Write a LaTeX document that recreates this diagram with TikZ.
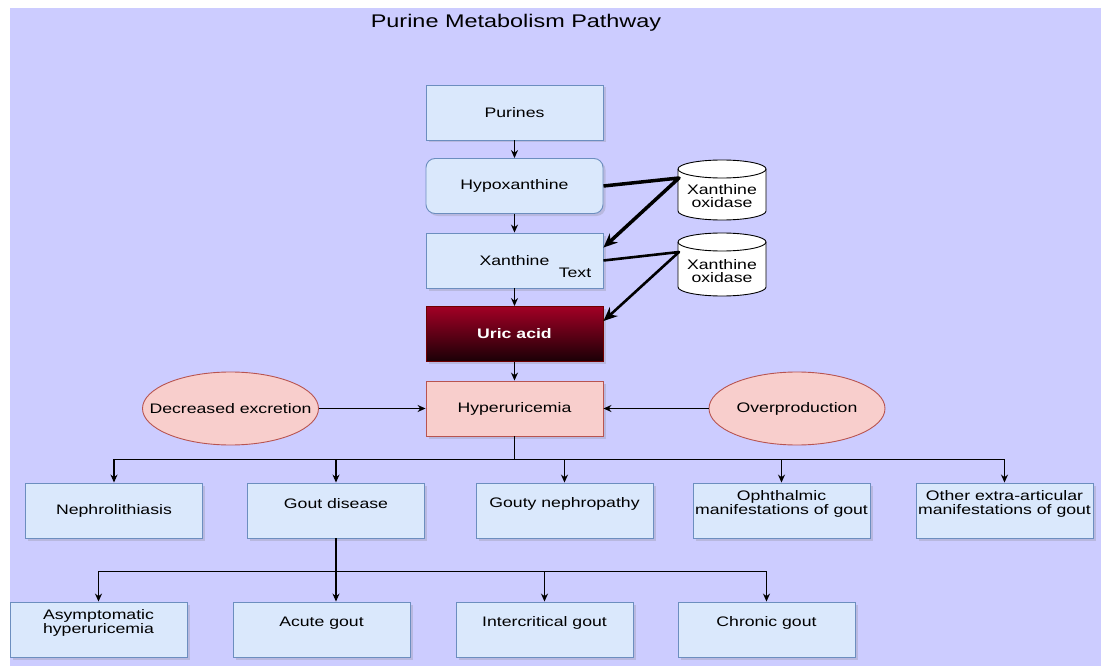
\documentclass[tikz,border=0pt]{standalone}
\usepackage{fontspec}
\setmainfont{Liberation Sans}[FakeStretch = 1.28]
\usetikzlibrary{arrows.meta, calc, shadows, shapes.geometric}

\definecolor{bgpage}{HTML}{CCCCFF}
\definecolor{boxfill}{HTML}{DAE8FC}
\definecolor{boxline}{HTML}{6C8EBF}
\definecolor{redfill}{HTML}{F8CECC}
\definecolor{redline}{HTML}{B85450}
\definecolor{uricTop}{HTML}{A20025}
\definecolor{uricBot}{HTML}{1A0006}
\definecolor{uricline}{HTML}{6F0000}

\newcommand\boxfont{\fontsize{13.8}{14}\selectfont}
\newcommand\titlefont{\fontsize{18.3}{20}\selectfont}

\tikzset{
    box/.style    = {draw = boxline, fill = boxfill, line width = 0.9pt,
                     minimum width = 177pt, minimum height = 55pt,
                     inner sep = 1pt, align = center, font = \boxfont,
                     drop shadow = {opacity = 0.25, shadow xshift = 2.5pt, shadow yshift = -2.5pt}},
    raised/.style = {box, label = {[font = \boxfont, align = center, yshift = 6.5pt]center:#1}},
    cause/.style  = {ellipse, draw = redline, fill = redfill, line width = 0.9pt,
                     minimum width = 176pt, minimum height = 73pt, inner sep = 0pt,
                     label = {[font = \boxfont]center:#1}},
    cyl/.style    = {draw = black, fill = white, line width = 0.9pt},
    link/.style   = {draw = black, line width = 1.2pt},
    flow/.style   = {link, -{Stealth[length = 8pt, width = 7pt]}},
    enzyme/.style = {draw = black, line join = round, -{Stealth[length = 14pt, width = 12pt]}}
}

\begin{document}
\begin{tikzpicture}[x = 1pt, y = -1pt]

    % page
    \useasboundingbox (0, 0) rectangle (1101, 666);
    \path [fill = white] (0, 0) rectangle (1101, 666);
    \path [fill = bgpage] (10, 8) rectangle (1101, 666);

    \node (title) at (516, 23) {\titlefont Purine Metabolism Pathway};

    % main chain
    \node [box] (purines) at (514.5, 112.5) {Purines};
    \node [box, rounded corners = 9pt] (hypo) at (514.5, 186) {Hypoxanthine};
    \node [box] (xan) at (514.5, 260.5) {Xanthine};
    \node [font = \boxfont, inner sep = 0pt] (xantext) at (575, 273) {Text};
    \node [box, shade, top color = uricTop, bottom color = uricBot, draw = uricline,
           text = white, font = \boxfont\bfseries] (uric) at (514.5, 334) {Uric acid};
    \node [box, draw = redline, fill = redfill] (hyper) at (514.5, 408.5) {Hyperuricemia};

    \draw [flow] (purines) -- (hypo);
    \draw [flow] (hypo) -- (xan);
    \draw [flow] (xan) -- (uric);
    \draw [flow] (uric) -- (hyper);

    % xanthine oxidase
    \foreach \n/\cy/\h in {xo1/190/60, xo2/264.5/63} {
        \path [cyl] (678, \cy - \h/2 + 9) -- (678, \cy + \h/2 - 9)
            arc [start angle = 180, end angle = 360, x radius = 44pt, y radius = 9pt]
            -- (766, \cy - \h/2 + 9)
            arc [start angle = 0, end angle = 180, x radius = 44pt, y radius = 9pt] -- cycle;
        \draw [cyl, fill = none] (678, \cy - \h/2 + 9)
            arc [start angle = 180, end angle = 360, x radius = 44pt, y radius = 9pt];
        \node [font = \boxfont, align = center, inner sep = 0pt] (\n) at (722, \cy + 6.5) {Xanthine\\[-1pt]oxidase};
    }
    \coordinate (xo1in) at (679, 178);
    \coordinate (xo2in) at (679, 252);

    \draw [enzyme, line width = 3.5pt] (hypo.east) -- (xo1in) -- ($(xan.north east) + (0, 15)$);
    \draw [enzyme, line width = 2.6pt] (xan.east) -- (xo2in) -- ($(uric.north east) + (0, 15)$);

    % causes
    \node [cause = {Decreased excretion}] (decexc) at (230.5, 408.5) {};
    \node [cause = {Overproduction}] (overprod) at (797, 408.5) {};
    \draw [flow] (decexc) -- (hyper);
    \draw [flow] (overprod) -- (hyper);

    % consequences
    \node [box] (neph) at (114, 510.5) {Nephrolithiasis};
    \node [raised = {Gout disease}] (gout) at (336, 510.5) {};
    \node [raised = {Gouty nephropathy}] (gouty) at (564.5, 510.5) {};
    \node [raised = {Ophthalmic\\manifestations of gout}] (ophth) at (781.5, 510.5) {};
    \node [raised = {Other extra-articular\\manifestations of gout}] (other) at (1004.5, 510.5) {};

    \draw [link] (hyper.south) -- ++(0, 23) coordinate (bus1);
    \draw [link] (bus1 -| neph.north) -- (bus1 -| other.north);
    \foreach \b in {neph, gout, gouty, ophth, other}
        \draw [flow] (bus1 -| \b.north) -- (\b.north);

    % stages of gout
    \node [raised = {Asymptomatic\\hyperuricemia}] (asym) at (98.5, 629.5) {};
    \node [raised = {Acute gout}] (acute) at (321.5, 629.5) {};
    \node [raised = {Intercritical gout}] (inter) at (544.5, 629.5) {};
    \node [raised = {Chronic gout}] (chronic) at (766.5, 629.5) {};

    \draw [flow] (gout.south) -- (gout.south |- acute.north);
    \path (gout.south) -- ++(0, 33) coordinate (bus2);
    \draw [link] (bus2 -| asym.north) -- (bus2 -| chronic.north);
    \foreach \b in {asym, inter, chronic}
        \draw [flow] (bus2 -| \b.north) -- (\b.north);

\end{tikzpicture}
\end{document}
